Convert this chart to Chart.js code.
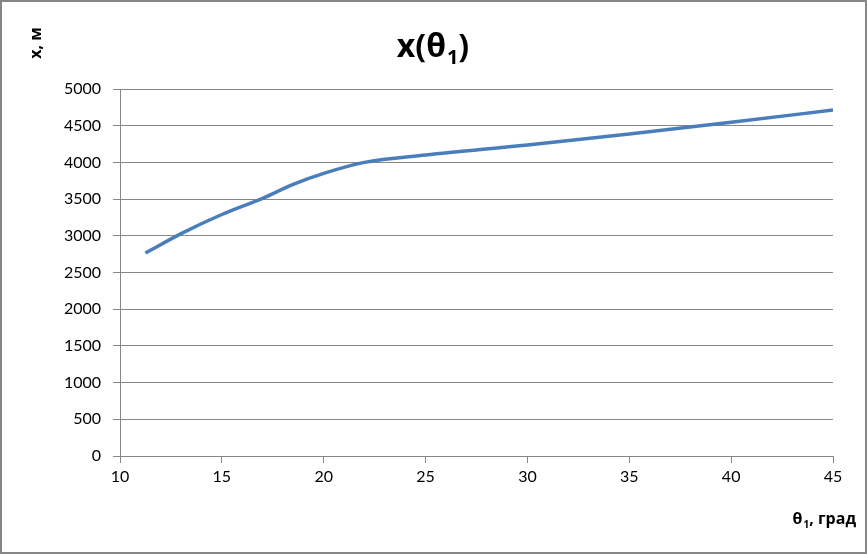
<!DOCTYPE html>
<html>
<head>
<meta charset="utf-8">
<script src="https://cdn.jsdelivr.net/npm/chart.js@4.4.0/dist/chart.umd.min.js"></script>
<style>
  html, body { margin: 0; padding: 0; background: #fff; }
  #wrap { position: relative; width: 867px; height: 554px; }
  #wrap canvas { position: absolute; left: 0; top: 0; }
</style>
</head>
<body>
<div id="wrap"><canvas id="myChart" width="867" height="554"></canvas></div>
<script>
// Valores: angulo (grados) y distancia (m)
const theta = [11.25, 13, 15, 17, 18.5, 20, 22, 25, 30, 35, 40, 45];
const dist  = [2765, 3030, 3290, 3510, 3700, 3850, 4000, 4100, 4237, 4387, 4546, 4714];
const xTicks = [10, 15, 20, 25, 30, 35, 40, 45];
const yTicks = [0, 500, 1000, 1500, 2000, 2500, 3000, 3500, 4000, 4500, 5000];

// Titulos: [texto normal, subindice, texto normal]
const tituloGrafico = ['x(θ', '1', ')'];
const tituloY = 'x, м';
const tituloX = ['θ', '1', ', град'];

const puntos = theta.map((t, i) => ({ x: t, y: dist[i] }));
const fuente = "Lato, 'Open Sans', sans-serif";
const fuenteTitulo = "'Open Sans', 'Noto Sans', sans-serif";
const gris = '#868686';

// Escribe texto con subindice; x es el borde izquierdo
function conSubindice(c, partes, x, y, size) {
  const big = 'bold ' + size + 'px ' + fuenteTitulo;
  const small = 'bold ' + Math.round(size * 0.62) + 'px ' + fuenteTitulo;
  c.textAlign = 'left';
  c.textBaseline = 'alphabetic';
  c.font = big; c.fillText(partes[0], x, y);
  x += c.measureText(partes[0]).width;
  c.font = small; c.fillText(partes[1], x + 1, y + size * 0.22);
  x += c.measureText(partes[1]).width + 1;
  c.font = big; c.fillText(partes[2], x, y);
}

function anchoSubindice(c, partes, size) {
  c.font = 'bold ' + size + 'px ' + fuenteTitulo;
  let w = c.measureText(partes[0]).width + c.measureText(partes[2]).width;
  c.font = 'bold ' + Math.round(size * 0.62) + 'px ' + fuenteTitulo;
  return w + c.measureText(partes[1]).width + 1;
}

// Dibuja titulos y marco del grafico
const textos = {
  id: 'textos',
  afterDraw(chart) {
    const c = chart.ctx;
    c.save();
    c.fillStyle = '#000';
    const w1 = anchoSubindice(c, tituloGrafico, 32);
    conSubindice(c, tituloGrafico, 433 - w1 / 2, 57, 32);

    const w2 = anchoSubindice(c, tituloX, 16);
    conSubindice(c, tituloX, 856 - w2, 524, 16);

    c.font = 'bold 16px ' + fuenteTitulo;
    c.translate(36, 43);
    c.rotate(-Math.PI / 2);
    c.textAlign = 'center';
    c.textBaseline = 'middle';
    c.fillText(tituloY, 0, 0);
    c.restore();

    c.save();
    c.strokeStyle = gris;
    c.lineWidth = 2;
    c.strokeRect(1, 1, 865, 552);
    c.restore();
  }
};

new Chart(document.getElementById('myChart'), {
  type: 'scatter',
  data: {
    datasets: [{
      data: puntos,
      showLine: true,
      borderColor: '#4a7ebb',
      backgroundColor: '#4a7ebb',
      borderWidth: 3.5,
      pointRadius: 0,
      cubicInterpolationMode: 'monotone'
    }]
  },
  options: {
    responsive: false,
    animation: false,
    layout: { padding: { top: 89, right: 34, left: 0, bottom: 0 } },
    plugins: { legend: { display: false }, tooltip: { enabled: false }, title: { display: false } },
    scales: {
      x: {
        type: 'linear',
        min: 10,
        max: 45,
        afterBuildTicks: (s) => { s.ticks = xTicks.map(v => ({ value: v })); },
        afterFit: (s) => { s.height = 98; },
        grid: { drawOnChartArea: false, color: gris, tickLength: 7, tickColor: gris },
        border: { color: gris },
        ticks: { color: '#000', font: { family: fuente, size: 16 }, padding: 4, callback: (v) => String(v) }
      },
      y: {
        min: 0,
        max: 5000,
        afterBuildTicks: (s) => { s.ticks = yTicks.map(v => ({ value: v })); },
        afterFit: (s) => { s.width = 120; },
        grid: { color: gris, tickLength: 7, tickColor: gris },
        border: { color: gris },
        ticks: { color: '#000', font: { family: fuente, size: 16 }, padding: 12, callback: (v) => String(v) }
      }
    }
  },
  plugins: [textos]
});
</script>
</body>
</html>
